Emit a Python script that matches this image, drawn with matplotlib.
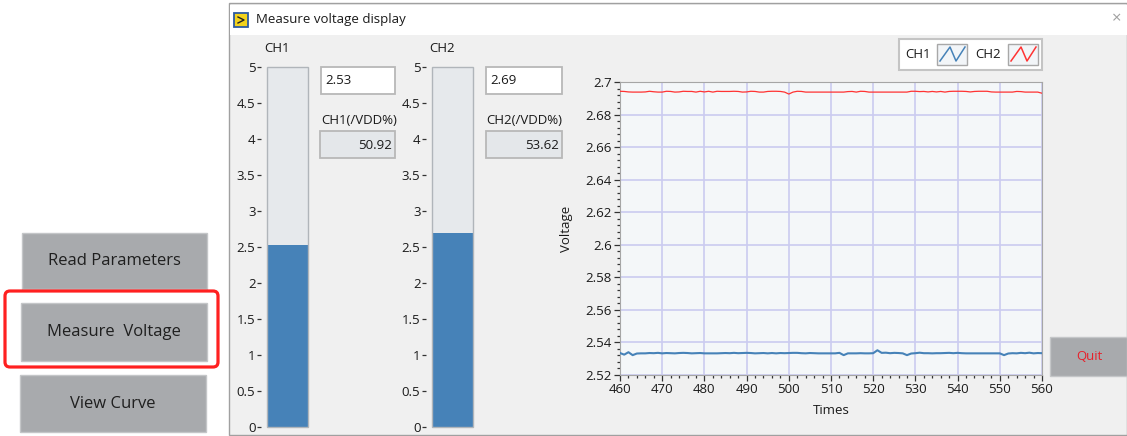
import numpy as np
import matplotlib
matplotlib.use('Agg')
import matplotlib.pyplot as plt
from matplotlib.patches import Rectangle, FancyBboxPatch
from matplotlib.ticker import MultipleLocator, FormatStrFormatter

plt.rcParams['font.family'] = ['Open Sans', 'DejaVu Sans']

W, H = 1127, 436

# ---- data ----
times = np.arange(460, 561)
ch1 = [2.5335, 2.5325, 2.5340, 2.5322, 2.5332, 2.5333, 2.5333, 2.5335, 2.5334, 2.5336,
       2.5333, 2.5335, 2.5334, 2.5333, 2.5335, 2.5336, 2.5335, 2.5333, 2.5334, 2.5335,
       2.5333, 2.5333, 2.5333, 2.5333, 2.5334, 2.5335, 2.5334, 2.5336, 2.5334, 2.5335,
       2.5336, 2.5335, 2.5333, 2.5334, 2.5335, 2.5333, 2.5335, 2.5333, 2.5335, 2.5334,
       2.5335, 2.5336, 2.5336, 2.5334, 2.5333, 2.5335, 2.5334, 2.5333, 2.5333, 2.5333,
       2.5333, 2.5333, 2.5336, 2.5322, 2.5333, 2.5333, 2.5333, 2.5334, 2.5333, 2.5333,
       2.5334, 2.5352, 2.5336, 2.5337, 2.5334, 2.5336, 2.5335, 2.5333, 2.5322, 2.5332,
       2.5334, 2.5337, 2.5334, 2.5334, 2.5333, 2.5334, 2.5334, 2.5335, 2.5336, 2.5334,
       2.5336, 2.5334, 2.5333, 2.5333, 2.5333, 2.5333, 2.5333, 2.5333, 2.5333, 2.5333,
       2.5333, 2.5322, 2.5332, 2.5334, 2.5333, 2.5336, 2.5334, 2.5337, 2.5333, 2.5335,
       2.5334]
ch2 = [2.6943, 2.6942, 2.6939, 2.6938, 2.6938, 2.6938, 2.6939, 2.6943, 2.6940, 2.6938,
       2.6938, 2.6943, 2.6942, 2.6938, 2.6939, 2.6943, 2.6942, 2.6942, 2.6938, 2.6943,
       2.6939, 2.6943, 2.6938, 2.6943, 2.6942, 2.6942, 2.6942, 2.6943, 2.6942, 2.6938,
       2.6939, 2.6943, 2.6942, 2.6938, 2.6938, 2.6942, 2.6943, 2.6943, 2.6942, 2.6938,
       2.6926, 2.6938, 2.6943, 2.6942, 2.6938, 2.6938, 2.6938, 2.6938, 2.6938, 2.6938,
       2.6938, 2.6938, 2.6938, 2.6938, 2.6941, 2.6942, 2.6938, 2.6943, 2.6942, 2.6938,
       2.6938, 2.6938, 2.6938, 2.6938, 2.6938, 2.6938, 2.6938, 2.6938, 2.6938, 2.6943,
       2.6943, 2.6941, 2.6942, 2.6939, 2.6942, 2.6939, 2.6942, 2.6938, 2.6942, 2.6943,
       2.6943, 2.6943, 2.6942, 2.6939, 2.6942, 2.6943, 2.6943, 2.6943, 2.6939, 2.6938,
       2.6938, 2.6938, 2.6938, 2.6938, 2.6942, 2.6941, 2.6938, 2.6938, 2.6938, 2.6938,
       2.6931]
channels = ['CH1', 'CH2']
gauge_values = [2.53, 2.69]
vdd_percent = [50.92, 53.62]
buttons = ['Read Parameters', 'Measure  Voltage', 'View Curve']

BLUE = '#4682b8'
RED = '#ff3333'
FS = 9.5


def fig_rect(x0, y0, x1, y1):
    # pixel box (top-left origin) -> figure fraction
    return [x0 / W, 1 - y1 / H, (x1 - x0) / W, (y1 - y0) / H]


fig = plt.figure(figsize=(W / 100, H / 100), dpi=100)
fig.patch.set_facecolor('white')

# background canvas in pixel coordinates
bg = fig.add_axes([0, 0, 1, 1])
bg.set_xlim(0, W)
bg.set_ylim(H, 0)
bg.axis('off')

# left buttons
btn_boxes = [(22, 233, 207, 289), (21, 303, 207, 361), (20, 375, 206, 432)]
for label, (x0, y0, x1, y1) in zip(buttons, btn_boxes):
    bg.add_patch(Rectangle((x0, y0), x1 - x0, y1 - y0, fc='#a8aaad', ec='#c4c6c8', lw=1))
    bg.text((x0 + x1) / 2, (y0 + y1) / 2, label, ha='center', va='center',
            fontsize=12, color='#1f1f1f')
bg.add_patch(FancyBboxPatch((5, 291), 213, 76, boxstyle='round,pad=0,rounding_size=5',
                            fill=False, ec='#ff2020', lw=2.3))

# window
bg.add_patch(Rectangle((229, 3), W - 229, H - 4, fc='#f0f0f0', ec='#a0a0a0', lw=1))
bg.add_patch(Rectangle((230, 5), W - 230, 30, fc='white', ec='none'))
bg.add_patch(Rectangle((234, 13), 14, 14, fc='#f2d21c', ec='#2d5aa0', lw=1.3))
bg.plot([238, 244, 238], [17, 20, 23], color='#222222', lw=1)
bg.text(256, 20, 'Measure voltage display', ha='left', va='center', fontsize=FS, color='#1a1a1a')
bg.text(1117, 19, '\u00d7', ha='center', va='center', fontsize=12, color='#a0a0a0')

# gauges with numeric fields
gauge_x = [267, 432]
num_x = [(321, 395), (486, 562)]
for i, name in enumerate(channels):
    gx = gauge_x[i]
    bg.text(gx - 3, 48, name, ha='left', va='center', fontsize=FS, color='#1a1a1a')
    nx0, nx1 = num_x[i]
    bg.add_patch(Rectangle((nx0, 67), nx1 - nx0, 27, fc='white', ec='#b8b8b8', lw=1.3))
    bg.text(nx0 + 4, 81, '%.2f' % gauge_values[i], ha='left', va='center', fontsize=FS, color='#1a1a1a')
    bg.text(nx0, 120, name + '(/VDD%)', ha='left', va='center', fontsize=FS, color='#1a1a1a')
    bg.add_patch(Rectangle((nx0 - 1 + i, 131), nx1 - nx0 + 1 - i, 27, fc='#e4e7ea', ec='#b8b8b8', lw=1.3))
    bg.text(nx1 - 3, 145, '%.2f' % vdd_percent[i], ha='right', va='center', fontsize=FS, color='#1a1a1a')

    ax = fig.add_axes(fig_rect(gx, 67, gx + 41, 427))
    ax.set_facecolor('#e6e9ec')
    ax.bar([0], [gauge_values[i]], width=1.0, color=BLUE, edgecolor='none')
    ax.set_xlim(-0.5, 0.5)
    ax.set_ylim(0, 5)
    ax.set_xticks([])
    ax.yaxis.set_major_locator(MultipleLocator(0.5))
    ax.yaxis.set_major_formatter(FormatStrFormatter('%g'))
    ax.spines['left'].set_position(('outward', 4.3))
    for s in ax.spines.values():
        s.set_visible(False)
    ax.add_patch(Rectangle((0, 0), 1, 1, transform=ax.transAxes, fill=False,
                           ec='#b0b5ba', lw=1, clip_on=False))
    ax.tick_params(axis='y', length=3, width=0.9, pad=1, labelsize=FS,
                   color='#333333', labelcolor='#1a1a1a')

# legend
bg.add_patch(Rectangle((899, 39), 143, 31, fc='white', ec='#c4c4c4', lw=1.5))
for name, col, tx, ix in [('CH1', BLUE, 905, 937), ('CH2', RED, 975, 1008)]:
    bg.text(tx, 55, name, ha='left', va='center', fontsize=FS, color='#1a1a1a')
    bg.add_patch(Rectangle((ix, 44), 30, 21, fc='#f2f5f8', ec='#a8a8a8', lw=1))
    bg.plot([ix + 3, ix + 13, ix + 19, ix + 28], [61, 47, 61, 47], color=col, lw=1.1)

# quit button
bg.add_patch(Rectangle((1050, 337), 77, 39, fc='#a8aaad', ec='#c4c6c8', lw=1))
bg.text(1089, 356, 'Quit', ha='center', va='center', fontsize=FS, color='#e8202a')

# chart
ax = fig.add_axes(fig_rect(620, 82, 1042, 375))
ax.set_facecolor('#f4f7f9')
ax.plot(times, ch1, color=BLUE, lw=1.5, zorder=3)
ax.plot(times, ch2, color=RED, lw=0.9, zorder=3)
ax.set_xlim(460, 560)
ax.set_ylim(2.52, 2.70)
ax.xaxis.set_major_locator(MultipleLocator(10))
ax.xaxis.set_minor_locator(MultipleLocator(2))
ax.yaxis.set_major_locator(MultipleLocator(0.02))
ax.yaxis.set_minor_locator(MultipleLocator(0.004))
ax.yaxis.set_major_formatter(FormatStrFormatter('%g'))
ax.grid(which='major', color='#cbcbf0', lw=1.2)
ax.set_axisbelow(True)
for s in ax.spines.values():
    s.set_color('#a6a6a6')
ax.tick_params(which='major', length=4, width=0.9, pad=2, labelsize=FS,
               color='#333333', labelcolor='#1a1a1a')
ax.tick_params(which='minor', length=2.5, width=0.9, color='#333333')
ax.set_xlabel('Times', fontsize=FS, color='#1a1a1a')
ax.set_ylabel('Voltage', fontsize=FS, color='#1a1a1a')
ax.xaxis.set_label_coords(0.5, -0.10)
ax.yaxis.set_label_coords(-0.111, 0.5)

fig.savefig('out.png', dpi=100)
